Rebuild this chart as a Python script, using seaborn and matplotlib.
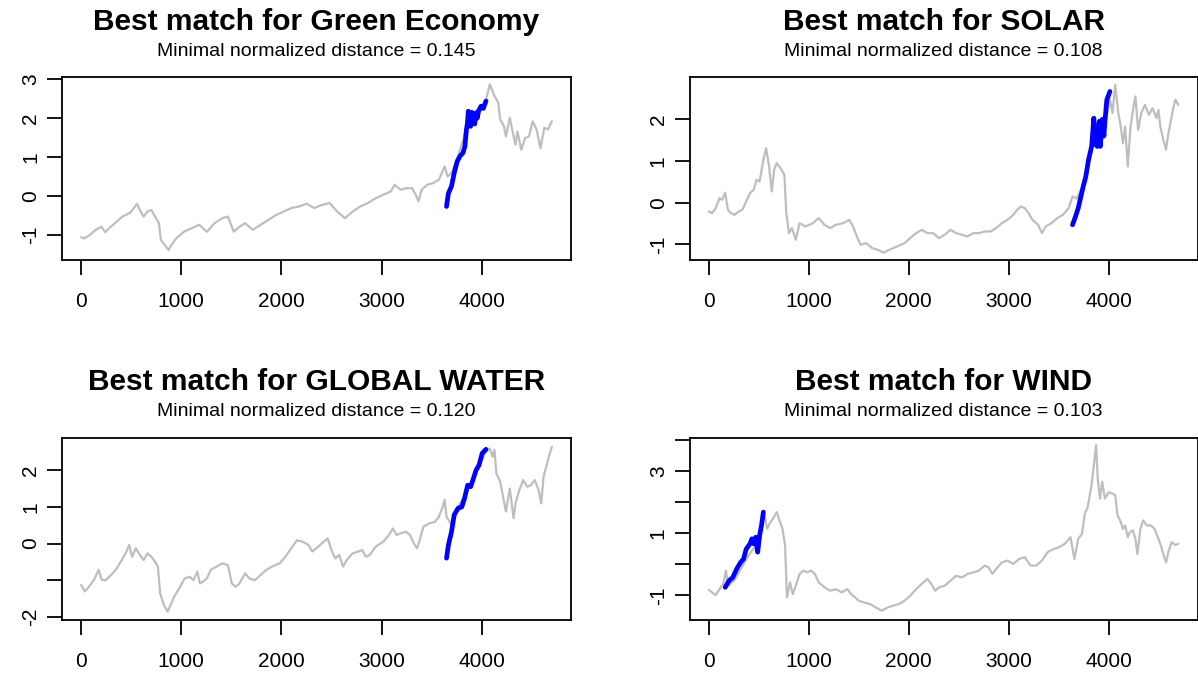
import matplotlib
matplotlib.use("Agg")
import matplotlib.pyplot as plt
import pandas as pd
import seaborn as sns

# ---- series: index position and normalized value ----
green_idx = [0, 31, 88, 145, 203, 241, 279, 337, 413, 490, 559, 586, 624, 662, 701, 739, 777, 796, 835, 873,
             892, 949, 1026, 1102, 1179, 1256, 1332, 1409, 1466, 1524, 1581, 1638, 1715, 1792, 1868, 1945, 2021,
             2098, 2174, 2251, 2327, 2404, 2481, 2557, 2634, 2710, 2787, 2863, 2940, 3016, 3093, 3131, 3189, 3246,
             3304, 3342, 3369, 3399, 3457, 3514, 3572, 3629, 3660, 3700, 3760, 3820, 3870, 3930, 3990, 4040, 4081,
             4127, 4165, 4184, 4222, 4241, 4280, 4318, 4337, 4356, 4394, 4433, 4471, 4509, 4547, 4586, 4624, 4662,
             4700]
green_val = [-1.06, -1.09, -1.00, -0.87, -0.79, -0.93, -0.83, -0.70, -0.53, -0.43, -0.20, -0.36, -0.53, -0.40,
             -0.36, -0.53, -0.70, -1.13, -1.26, -1.39, -1.30, -1.09, -0.92, -0.83, -0.74, -0.92, -0.70, -0.57,
             -0.53, -0.92, -0.79, -0.70, -0.87, -0.74, -0.62, -0.49, -0.40, -0.31, -0.27, -0.20, -0.31, -0.23,
             -0.18, -0.40, -0.57, -0.40, -0.27, -0.18, -0.06, 0.03, 0.12, 0.29, 0.16, 0.20, 0.20, 0.03, -0.14,
             0.16, 0.29, 0.33, 0.42, 0.76, 0.50, 0.60, 1.00, 1.50, 2.10, 2.00, 2.20, 2.45, 2.87, 2.57, 2.40, 1.97,
             1.79, 1.53, 2.01, 1.53, 1.32, 1.66, 1.19, 1.49, 1.53, 1.92, 1.71, 1.23, 1.75, 1.71, 1.92]
green_match_idx = [3648, 3667, 3698, 3725, 3755, 3782, 3813, 3832, 3847, 3856, 3866, 3875, 3889, 3900, 3916,
                   3930, 3942, 3954, 3970, 3993, 4015, 4042]
green_match_val = [-0.27, 0.07, 0.25, 0.59, 0.89, 1.02, 1.11, 1.28, 1.71, 1.85, 2.18, 1.80, 1.79, 2.15, 2.01,
                   1.85, 2.14, 2.00, 2.20, 2.31, 2.25, 2.44]

solar_idx = [0, 31, 69, 107, 134, 164, 191, 221, 260, 298, 336, 374, 412, 450, 477, 508, 546, 573, 603, 630,
             653, 679, 718, 756, 775, 802, 832, 870, 908, 966, 1042, 1099, 1157, 1214, 1271, 1347, 1405, 1443,
             1481, 1519, 1576, 1634, 1691, 1748, 1805, 1882, 1958, 2015, 2073, 2130, 2187, 2244, 2302, 2359, 2416,
             2473, 2531, 2588, 2645, 2702, 2760, 2817, 2874, 2931, 2989, 3046, 3084, 3122, 3160, 3199, 3237, 3294,
             3332, 3370, 3428, 3485, 3542, 3599, 3638, 3680, 3740, 3800, 3850, 3900, 3960, 4010, 4038, 4065, 4096,
             4115, 4142, 4164, 4191, 4218, 4248, 4267, 4294, 4325, 4363, 4401, 4439, 4477, 4497, 4516, 4546, 4573,
             4592, 4623, 4649, 4668, 4695]
solar_val = [-0.21, -0.25, -0.13, 0.11, 0.07, 0.24, -0.17, -0.25, -0.29, -0.21, -0.17, 0.03, 0.23, 0.31, 0.55,
             0.51, 1.03, 1.31, 0.87, 0.27, 0.79, 0.95, 0.83, 0.67, -0.25, -0.73, -0.61, -0.89, -0.49, -0.57,
             -0.49, -0.37, -0.53, -0.61, -0.53, -0.49, -0.41, -0.57, -0.81, -1.01, -0.97, -1.09, -1.13, -1.20,
             -1.13, -1.05, -0.97, -0.85, -0.73, -0.65, -0.73, -0.73, -0.85, -0.77, -0.65, -0.73, -0.77, -0.81,
             -0.73, -0.73, -0.69, -0.69, -0.61, -0.49, -0.41, -0.29, -0.17, -0.09, -0.13, -0.25, -0.41, -0.53,
             -0.73, -0.57, -0.49, -0.37, -0.29, -0.13, 0.15, 0.10, 0.40, 1.00, 1.60, 2.00, 1.80, 2.50, 2.15, 2.83,
             2.15, 1.91, 1.43, 1.83, 0.87, 1.83, 2.31, 2.55, 1.75, 2.15, 2.35, 2.11, 2.27, 2.03, 2.23, 1.83, 1.51,
             1.27, 1.59, 1.99, 2.31, 2.47, 2.35]
solar_match_idx = [3638, 3668, 3695, 3722, 3745, 3771, 3798, 3829, 3851, 3860, 3874, 3885, 3905, 3915, 3924,
                   3935, 3943, 3952, 3962, 3981, 4012]
solar_match_val = [-0.53, -0.33, -0.13, 0.15, 0.39, 0.63, 1.03, 1.35, 2.03, 1.40, 1.83, 1.35, 1.95, 1.35, 1.59,
                   2.00, 1.83, 1.60, 1.95, 2.47, 2.67]

water_idx = [0, 38, 77, 126, 176, 203, 241, 299, 356, 406, 452, 479, 509, 547, 586, 624, 662, 701, 739, 766,
             789, 827, 865, 892, 930, 988, 1034, 1083, 1122, 1160, 1187, 1217, 1256, 1294, 1351, 1409, 1466, 1504,
             1543, 1581, 1638, 1677, 1734, 1792, 1849, 1906, 1983, 2040, 2098, 2155, 2212, 2270, 2308, 2366, 2423,
             2461, 2500, 2538, 2576, 2615, 2653, 2710, 2767, 2806, 2844, 2883, 2940, 3016, 3074, 3112, 3150, 3189,
             3246, 3284, 3323, 3353, 3380, 3418, 3476, 3533, 3572, 3610, 3629, 3648, 3700, 3760, 3830, 3900, 3970,
             4040, 4081, 4108, 4127, 4146, 4184, 4222, 4241, 4280, 4318, 4337, 4375, 4414, 4452, 4490, 4529, 4567,
             4594, 4617, 4643, 4670, 4700]
water_val = [-1.13, -1.31, -1.18, -1.00, -0.72, -0.98, -1.01, -0.86, -0.68, -0.45, -0.22, -0.04, -0.36, -0.13,
             -0.31, -0.45, -0.27, -0.36, -0.50, -0.63, -1.36, -1.68, -1.86, -1.68, -1.45, -1.18, -0.95, -0.91,
             -1.00, -0.77, -1.09, -1.04, -0.95, -0.72, -0.63, -0.54, -0.59, -1.09, -1.18, -1.09, -0.81, -0.95,
             -1.00, -0.86, -0.72, -0.63, -0.54, -0.36, -0.13, 0.09, 0.05, -0.04, -0.22, -0.09, 0.05, 0.14, -0.18,
             -0.41, -0.31, -0.63, -0.45, -0.27, -0.22, -0.18, -0.36, -0.31, -0.09, 0.05, 0.23, 0.41, 0.23, 0.28,
             0.32, 0.23, 0.00, -0.13, 0.09, 0.46, 0.55, 0.59, 0.73, 1.00, 1.19, 0.73, 0.50, 1.00, 1.30, 1.70, 2.10,
             2.50, 2.59, 2.37, 2.55, 1.91, 1.69, 1.14, 0.87, 1.50, 0.69, 1.09, 1.46, 1.73, 1.55, 1.59, 1.73, 1.46,
             1.09, 1.82, 2.09, 2.37, 2.64]
water_match_idx = [3648, 3667, 3698, 3725, 3763, 3801, 3828, 3859, 3889, 3916, 3943, 3973, 4004, 4042]
water_match_val = [-0.40, -0.04, 0.32, 0.78, 0.96, 1.00, 1.23, 1.59, 1.55, 1.77, 2.00, 2.14, 2.46, 2.57]

wind_idx = [0, 31, 69, 107, 145, 172, 191, 260, 330, 400, 470, 540, 557, 584, 615, 641, 679, 706, 737, 763,
            782, 813, 840, 870, 908, 947, 985, 1023, 1061, 1099, 1157, 1214, 1271, 1328, 1386, 1424, 1462, 1500,
            1557, 1615, 1672, 1729, 1786, 1844, 1901, 1958, 2015, 2073, 2130, 2187, 2225, 2264, 2302, 2359, 2416,
            2473, 2531, 2588, 2645, 2702, 2760, 2798, 2836, 2874, 2931, 2989, 3046, 3103, 3160, 3218, 3275, 3332,
            3390, 3447, 3504, 3561, 3618, 3657, 3695, 3733, 3760, 3790, 3828, 3855, 3874, 3890, 3913, 3935, 3962,
            4000, 4038, 4065, 4088, 4115, 4142, 4164, 4191, 4210, 4241, 4267, 4287, 4317, 4344, 4382, 4420, 4458,
            4485, 4516, 4546, 4573, 4600, 4630, 4668, 4695]
wind_val = [-0.82, -0.90, -0.99, -0.80, -0.63, -0.20, -0.69, -0.50, -0.10, 0.30, 0.60, 1.50, 1.57, 1.14, 1.35,
            1.46, 1.68, 1.41, 1.14, 0.60, -1.06, -0.58, -0.96, -0.69, -0.31, -0.20, -0.26, -0.20, -0.31, -0.58,
            -0.74, -0.85, -0.80, -0.90, -0.80, -0.96, -1.06, -1.17, -1.23, -1.28, -1.39, -1.49, -1.39, -1.33,
            -1.28, -1.17, -1.01, -0.80, -0.63, -0.47, -0.63, -0.85, -0.74, -0.69, -0.53, -0.37, -0.42, -0.31,
            -0.26, -0.20, -0.04, -0.10, -0.31, -0.15, 0.06, 0.12, 0.01, 0.17, 0.23, -0.04, -0.04, 0.12, 0.39,
            0.49, 0.55, 0.66, 0.87, 0.17, 0.82, 0.98, 1.62, 1.84, 2.54, 3.29, 3.83, 2.75, 2.11, 2.65, 2.11, 2.32,
            2.27, 2.22, 1.57, 1.41, 1.14, 1.25, 0.87, 1.03, 1.09, 0.82, 0.33, 1.14, 1.41, 1.25, 1.25, 1.14, 0.92,
            0.66, 0.33, 0.06, 0.44, 0.71, 0.62, 0.66]
wind_match_idx = [164, 202, 240, 279, 317, 347, 374, 412, 431, 450, 469, 489, 508, 527, 546]
wind_match_val = [-0.74, -0.53, -0.42, -0.15, 0.06, 0.17, 0.49, 0.66, 0.82, 0.66, 0.87, 0.39, 0.92, 1.25, 1.68]

names = ["Green Economy", "SOLAR", "GLOBAL WATER", "WIND"]
distances = [0.145, 0.108, 0.120, 0.103]
x_ticks = [0, 1000, 2000, 3000, 4000]
y_ticks = [[-1, 0, 1, 2, 3], [-1, 0, 1, 2], [-2, -1, 0, 1, 2], [-1, 0, 1, 2, 3, 4]]
y_tick_labels = [["-1", "0", "1", "2", "3"], ["-1", "0", "1", "2"],
                 ["-2", "", "0", "1", "2"], ["-1", "", "1", "", "3", ""]]

series = [(green_idx, green_val, green_match_idx, green_match_val),
          (solar_idx, solar_val, solar_match_idx, solar_match_val),
          (water_idx, water_val, water_match_idx, water_match_val),
          (wind_idx, wind_val, wind_match_idx, wind_match_val)]

# ---- layout (pixel boxes of each plotting region) ----
W, H = 1198, 679
boxes = [(62.3, 77.3, 570.7, 260.0), (690.0, 77.3, 1197.5, 260.0),
         (62.3, 438.3, 570.7, 620.0), (690.0, 438.3, 1197.5, 620.0)]
y_limits = [(-1.645, 3.05), (-1.375, 3.01), (-2.087, 2.87), (-1.79, 4.05)]
title_y = [22, 22, 382, 382]
sub_y = [51, 51, 411, 411]

sns.set_style("white")
plt.rcParams["font.family"] = ["Liberation Sans", "DejaVu Sans"]

fig = plt.figure(figsize=(W / 100, H / 100), dpi=100)

for i, (idx, val, m_idx, m_val) in enumerate(series):
    left, top, right, bottom = boxes[i]
    ax = fig.add_axes([left / W, 1 - bottom / H, (right - left) / W, (bottom - top) / H])
    base = pd.DataFrame({"index": idx, "value": val})
    match = pd.DataFrame({"index": m_idx, "value": m_val})
    sns.lineplot(data=base, x="index", y="value", ax=ax, color="#BEBEBE",
                 linewidth=1.6, sort=False, estimator=None)
    sns.lineplot(data=match, x="index", y="value", ax=ax, color="#0000FF",
                 linewidth=3.4, sort=False, estimator=None)
    ax.set_xlim(-188, 4888)
    ax.set_ylim(*y_limits[i])
    ax.set_xticks(x_ticks)
    ax.set_xticklabels([str(t) for t in x_ticks])
    ax.set_yticks(y_ticks[i])
    ax.set_yticklabels(y_tick_labels[i], rotation=90, va="center")
    ax.set_xlabel("")
    ax.set_ylabel("")
    for sp in ax.spines.values():
        sp.set_visible(True)
        sp.set_color("black")
        sp.set_linewidth(1.3)
    ax.tick_params(axis="both", which="major", bottom=True, left=True, direction="out",
                   length=11, width=1.3, color="black", labelsize=15, labelcolor="black")
    ax.tick_params(axis="x", pad=12)
    ax.tick_params(axis="y", pad=5)
    ax.grid(False)

    cx = (left + right) / 2 / W
    fig.text(cx, 1 - title_y[i] / H, f"Best match for {names[i]}", ha="center", va="center",
             fontsize=21.5, fontweight="bold", color="black")
    fig.text(cx, 1 - sub_y[i] / H, f"Minimal normalized distance = {distances[i]:.3f}",
             ha="center", va="center", fontsize=14, color="black")

fig.savefig("out.png", dpi=100)
